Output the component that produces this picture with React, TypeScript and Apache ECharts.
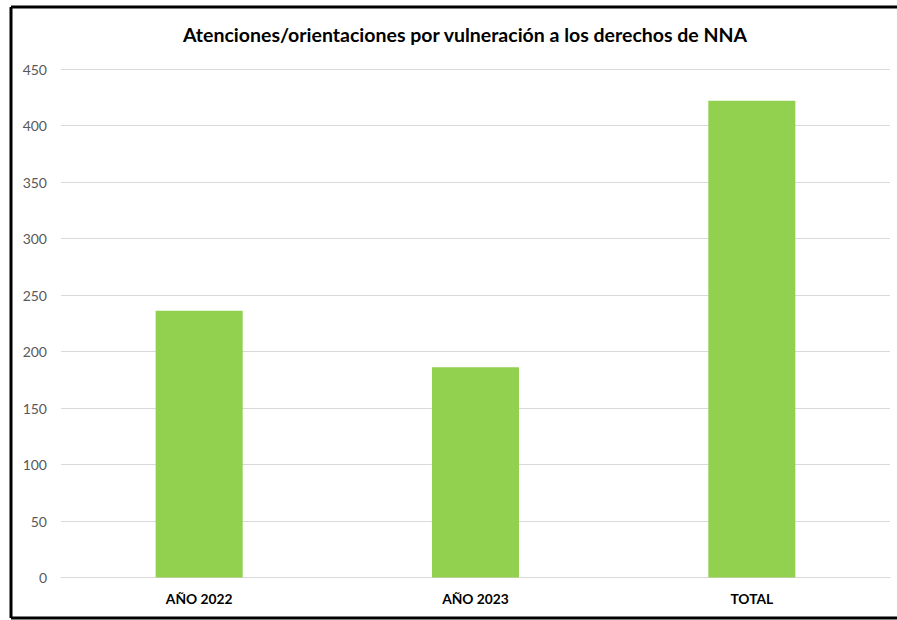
import React, { useEffect, useRef } from "react";
import * as echarts from "echarts";

const titleText = "Atenciones/orientaciones por vulneración a los derechos de NNA";
const categories = ["AÑO 2022", "AÑO 2023", "TOTAL"];
const values = [236, 186, 422];
const yMin = 0;
const yMax = 450;
const yStep = 50;

export default function App() {
  const ref = useRef<HTMLDivElement>(null);
  useEffect(() => {
    if (!ref.current) return;
    const chart = echarts.init(ref.current, null, { renderer: "svg" });
    chart.setOption({
      animation: false,
      backgroundColor: "#ffffff",
      textStyle: { fontFamily: "Lato, 'Open Sans', sans-serif" },
      title: {
        text: titleText,
        left: 460,
        top: 19,
        textAlign: "center",
        textStyle: { fontSize: 19.5, fontWeight: "bold", color: "#000000", fontFamily: "Lato, 'Open Sans', sans-serif" },
      },
      grid: { left: 61, right: 7, top: 69, bottom: 42.5, containLabel: false },
      xAxis: {
        type: "category",
        data: categories,
        axisLine: { show: true, lineStyle: { color: "#d9d9d9", width: 1 } },
        axisTick: { show: false },
        axisLabel: { fontSize: 13.8, fontWeight: "bold", color: "#000000", margin: 14 },
      },
      yAxis: {
        type: "value",
        min: yMin,
        max: yMax,
        interval: yStep,
        axisLine: { show: false },
        axisTick: { show: false },
        splitLine: { lineStyle: { color: "#d9d9d9", width: 1 } },
        axisLabel: { fontSize: 14, color: "#595959", margin: 14 },
      },
      series: [
        {
          type: "bar",
          data: values,
          barWidth: "31.5%",
          itemStyle: { color: "#92d050" },
        },
      ],
      graphic: [
        { type: "line", shape: { x1: 11, y1: 7, x2: 897, y2: 7 }, style: { stroke: "#000", lineWidth: 3 } },
        { type: "line", shape: { x1: 11, y1: 618, x2: 897, y2: 618 }, style: { stroke: "#000", lineWidth: 3 } },
        { type: "line", shape: { x1: 11, y1: 7, x2: 11, y2: 618 }, style: { stroke: "#000", lineWidth: 3 } },
      ],
    });
    return () => chart.dispose();
  }, []);
  return (
    <div
      ref={ref}
      style={{ position: "fixed", left: 0, top: 0, width: 897, height: 620 }}
    />
  );
}
